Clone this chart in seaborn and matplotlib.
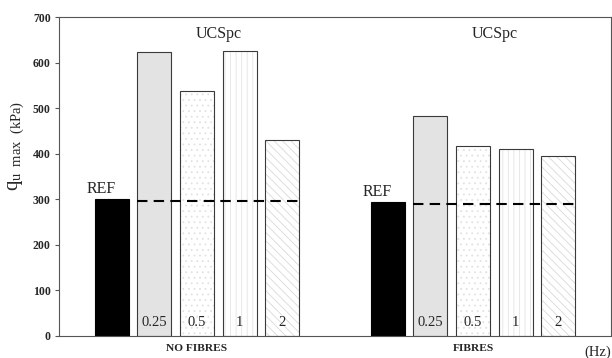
import matplotlib
matplotlib.use("Agg")
import matplotlib.pyplot as plt
import matplotlib.colors as mcolors
import matplotlib.transforms as mtrans
import seaborn as sns
import pandas as pd

# ---- data ----
groups = ["NO FIBRES", "FIBRES"]
freqs = ["REF", "0.25", "0.5", "1", "2"]
no_fibres = [300, 623, 537, 625, 429]
fibres = [293, 483, 417, 410, 396]
ref_line = [296, 290]
yticks = [0, 100, 200, 300, 400, 500, 600, 700]

rows = []
for g, vals in zip(groups, [no_fibres, fibres]):
    for f, v in zip(freqs, vals):
        rows.append({"group": g, "freq": f, "value": v})
df = pd.DataFrame(rows)

sns.set_theme(style="white")
plt.rcParams["font.family"] = ["Liberation Serif", "DejaVu Serif"]
plt.rcParams["mathtext.fontset"] = "custom"
plt.rcParams["mathtext.rm"] = "Liberation Serif"
plt.rcParams["mathtext.it"] = "Liberation Serif:italic"
plt.rcParams["hatch.linewidth"] = 0.6

fig = plt.figure(figsize=(6.12, 3.58), dpi=100)
ax = fig.add_axes([59 / 612, 1 - 336 / 358, 552 / 612, 319 / 358])

face = {"REF": "black", "0.25": "#e3e3e3", "0.5": "white", "1": "white", "2": "white"}
sns.barplot(data=df, x="group", y="value", hue="freq", order=groups,
            hue_order=freqs, palette=face, width=0.77, gap=0.2,
            edgecolor="#3a3a3a", linewidth=0.8, saturation=1, legend=False, ax=ax)

hatches = {"REF": None, "0.25": None, "0.5": "...", "1": "|||", "2": "\\\\\\\\"}
hcol = {"0.5": "#e2e2e2", "1": "#e4e4e4", "2": "#d9d9d9"}
for cont, f in zip(ax.containers, freqs):
    for p in cont:
        if f == "REF":
            p.set_edgecolor("black")
        if hatches[f]:
            p.set_hatch(hatches[f])
            c = mcolors.to_rgba(hcol[f])
            try:
                p.set_hatchcolor(c)
            except AttributeError:
                p._hatch_color = c

ax.set_ylim(0, 700)
ax.set_xlim(-0.5, 1.5)
ax.set_yticks(yticks)
ax.set_yticklabels([str(t) for t in yticks], fontweight="bold", fontsize=8.5)
ax.tick_params(axis="y", length=3, width=0.8, color="#555555", pad=3, left=True)
ax.tick_params(axis="x", length=0, pad=6)
for lab in ax.get_xticklabels():
    lab.set_fontweight("bold")
    lab.set_fontsize(8.2)
ax.set_xlabel("")
ax.set_ylabel(r"q$_{\mathrm{u\ \ max\ \ (kPa)}}$", fontsize=15)
ax.yaxis.set_label_coords(-0.06, 0.595)

for s in ax.spines.values():
    s.set_color("#555555")
    s.set_linewidth(0.8)

btrans = mtrans.blended_transform_factory(ax.transData, ax.transAxes)
for i in range(len(groups)):
    left = ax.containers[1][i].get_x()
    right = ax.containers[4][i].get_x() + ax.containers[4][i].get_width()
    ax.hlines(ref_line[i], left, right, colors="black", linewidth=1.5,
              linestyles=(0, (5, 3)))
    refbar = ax.containers[0][i]
    ax.annotate("REF", (refbar.get_x() + refbar.get_width() / 2, refbar.get_height()),
                xytext=(-8, 2), textcoords="offset points", ha="center", va="bottom",
                fontsize=11.5)
    ax.text(i + 0.08, 0.948, "UCSpc", transform=btrans, ha="center", va="center",
            fontsize=11.5)
    for cont, f in zip(ax.containers[1:], freqs[1:]):
        p = cont[i]
        ax.text(p.get_x() + p.get_width() / 2, 0.042, f, transform=btrans,
                ha="center", va="center", fontsize=10.5)

ax.text(1.0, -0.05, "(Hz)", transform=ax.transAxes, ha="right", va="center",
        fontsize=10.5)

fig.savefig("out.png", dpi=100)
